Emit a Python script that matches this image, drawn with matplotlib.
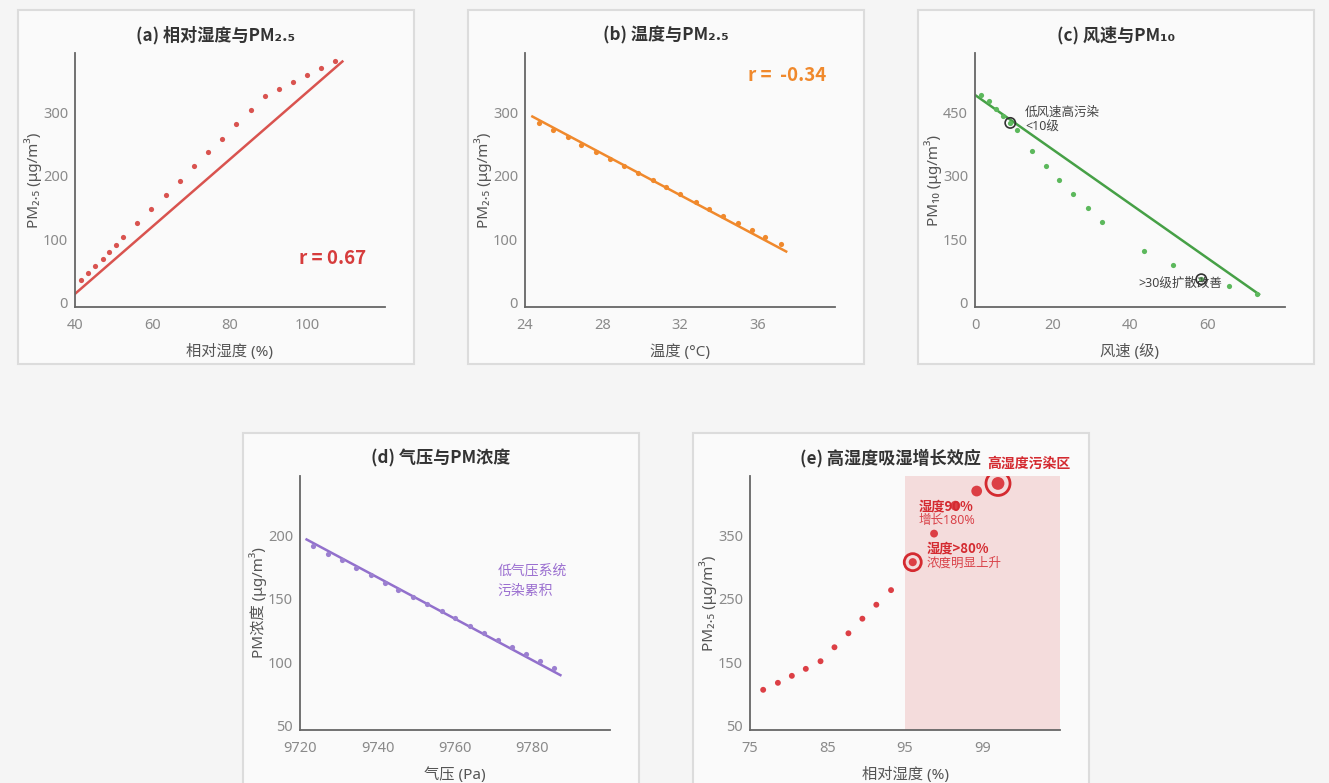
import matplotlib
matplotlib.use('Agg')
import matplotlib.pyplot as plt
from matplotlib.patches import Rectangle
import numpy as np

plt.rcParams['font.family'] = ['Noto Sans', 'Noto Sans CJK SC', 'DejaVu Sans']
BOLD_FAM = ['Noto Sans CJK SC', 'DejaVu Sans']

# (a) 相对湿度与PM2.5
rh_a = [41.5, 43.4, 45.2, 47.1, 48.9, 50.7, 52.5, 56.1, 59.7, 63.4, 67.1,
        70.7, 74.4, 78.0, 81.6, 85.3, 89.0, 92.6, 96.2, 99.9, 103.5, 107.2]
pm25_a = [36, 46, 58, 69, 80, 91, 103, 125, 147, 170, 192,
          215, 237, 259, 282, 304, 326, 337, 348, 360, 371, 382]
fit_a = (5.316, -198.9)          # slope, intercept
fit_a_range = (40, 109)

# (b) 温度与PM2.5
temp_b = [24.7, 25.45, 26.2, 26.9, 27.65, 28.4, 29.1, 29.85, 30.6, 31.3,
          32.0, 32.8, 33.5, 34.2, 35.0, 35.7, 36.4, 37.2]
pm25_b = [283, 272, 261, 249, 238, 227, 216, 204, 193, 182,
          171, 159, 148, 137, 126, 115, 103, 92]
fit_b = (-16.27, 690.4)
fit_b_range = (24.38, 37.48)

# (c) 风速与PM10
wind_c = [1.6, 3.5, 5.3, 7.2, 9.1, 10.9, 14.6, 18.2, 21.8, 25.4, 29.1,
          32.8, 43.7, 51.0, 58.4, 65.6, 72.9]
pm10_c = [492, 476, 459, 442, 425, 409, 358, 324, 290, 257, 223,
          190, 123, 89, 56, 39, 22]
fit_c = (-6.42, 491.0)
fit_c_range = (0, 73.3)
mark_c = [4, 14]

# (d) 气压与PM浓度
pres_d = [9723.4, 9727.2, 9730.8, 9734.5, 9738.2, 9741.9, 9745.4, 9749.1, 9752.8,
          9756.6, 9760.1, 9763.8, 9767.4, 9771.1, 9774.7, 9778.4, 9781.9, 9785.5]
pm_d = [191.6, 185.5, 180.3, 174.5, 168.7, 162.9, 157.4, 151.6, 146.0,
        140.3, 134.7, 129.0, 123.2, 117.6, 112.1, 106.6, 100.8, 95.3]
fit_d = (-1.631, 199.6)          # y = b + k*(x-9720)
fit_d_range = (9721.7, 9787.2)

# (e) 高湿度吸湿增长效应
rh_e = [76.7, 78.6, 80.4, 82.2, 84.1, 85.9, 87.7, 89.5, 91.3, 93.2,
        95.4, 96.5, 97.6, 98.7, 99.8]
pm25_e = [107, 118, 129, 140, 152, 174, 196, 219, 241, 264,
          308, 353, 397, 420, 432]
mark_e = [10, 14]

W, H = 1329, 783
fig = plt.figure(figsize=(W / 100, H / 100), dpi=100)
fig.patch.set_facecolor('#f5f5f5')

PANEL_BG = '#fafafa'
TICK_C = '#8a8a8a'
LABEL_C = '#555555'
TITLE_C = '#333333'


def panel(x0, y0, title):
    # 每个子图外框 (像素, 左上角坐标)
    fig.add_artist(Rectangle((x0 / W, 1 - (y0 + 354) / H), 396 / W, 354 / H,
                             transform=fig.transFigure, facecolor=PANEL_BG,
                             edgecolor='#dcdcdc', lw=1.5, zorder=0))
    fig.text((x0 + 198) / W, 1 - (y0 + 25) / H, title, ha='center', va='center',
             fontsize=12.3, fontweight='bold', color=TITLE_C, family=BOLD_FAM)
    ax = fig.add_axes([(x0 + 57) / W, 1 - (y0 + 297) / H, 310 / W, 254 / H])
    ax.set_facecolor(PANEL_BG)
    for s in ['top', 'right']:
        ax.spines[s].set_visible(False)
    for s in ['left', 'bottom']:
        ax.spines[s].set_color('#666666')
        ax.spines[s].set_linewidth(1.3)
    ax.tick_params(length=0, labelsize=10.5, colors=TICK_C, pad=5)
    ax.tick_params(axis='x', pad=8)
    ax.yaxis.set_label_coords(-0.105, 0.5)
    ax.xaxis.set_label_coords(0.5, -0.145)
    return ax


# (a)
ax = panel(18, 10, '(a) 相对湿度与PM₂.₅')
ax.scatter(rh_a, pm25_a, s=14, color='#d9534f', lw=0, zorder=3)
xx = np.array(fit_a_range)
ax.plot(xx, fit_a[0] * xx + fit_a[1], color='#d9534f', lw=1.8, zorder=2)
ax.set_xlim(40, 120)
ax.set_ylim(-7, 394)
ax.set_xticks([40, 60, 80, 100])
ax.set_yticks([0, 100, 200, 300])
ax.set_xlabel('相对湿度 (%)', fontsize=11, color=LABEL_C)
ax.set_ylabel('PM₂.₅ (μg/m³)', fontsize=11, color=LABEL_C)
ax.text(106.4, 69, 'r = 0.67', ha='center', va='center', fontsize=13.5,
        fontweight='bold', color='#d63c3c', family=BOLD_FAM)

# (b)
ax = panel(468, 10, '(b) 温度与PM₂.₅')
ax.scatter(temp_b, pm25_b, s=14, color='#f0892c', lw=0, zorder=3)
xx = np.array(fit_b_range)
ax.plot(xx, fit_b[0] * xx + fit_b[1], color='#f0892c', lw=1.8, zorder=2)
ax.set_xlim(24, 40)
ax.set_ylim(-7, 394)
ax.set_xticks([24, 28, 32, 36])
ax.set_yticks([0, 100, 200, 300])
ax.set_xlabel('温度 (°C)', fontsize=11, color=LABEL_C)
ax.set_ylabel('PM₂.₅ (μg/m³)', fontsize=11, color=LABEL_C)
ax.text(37.55, 358, 'r =  -0.34', ha='center', va='center', fontsize=13.5,
        fontweight='bold', color='#f0892c', family=BOLD_FAM)

# (c)
ax = panel(918, 10, '(c) 风速与PM₁₀')
ax.scatter(wind_c, pm10_c, s=14, color='#5cb85c', lw=0, zorder=3)
xx = np.array(fit_c_range)
ax.plot(xx, fit_c[0] * xx + fit_c[1], color='#46a046', lw=1.8, zorder=2)
ax.scatter([wind_c[i] for i in mark_c], [pm10_c[i] for i in mark_c], s=55,
           facecolor='none', edgecolor='#333333', lw=1.2, zorder=4)
ax.set_xlim(0, 80)
ax.set_ylim(-9.5, 590)
ax.set_xticks([0, 20, 40, 60])
ax.set_yticks([0, 150, 300, 450])
ax.set_xlabel('风速 (级)', fontsize=11, color=LABEL_C)
ax.set_ylabel('PM₁₀ (μg/m³)', fontsize=11, color=LABEL_C)
ax.text(12.9, 432, '低风速高污染\n<10级', ha='left', va='center', fontsize=9,
        color='#444444', linespacing=1.15)
ax.text(42.1, 47, '>30级扩散改善', ha='left', va='center', fontsize=9,
        color='#444444')

# (d)
ax = panel(243, 433, '(d) 气压与PM浓度')
ax.scatter(pres_d, pm_d, s=14, color='#9b7fd0', lw=0, zorder=3)
xx = np.array(fit_d_range)
ax.plot(xx, fit_d[1] + fit_d[0] * (xx - 9720), color='#9270cc', lw=1.8, zorder=2)
ax.set_xlim(9720, 9800)
ax.set_ylim(46.8, 246.8)
ax.set_xticks([9720, 9740, 9760, 9780])
ax.set_yticks([50, 100, 150, 200])
ax.set_xlabel('气压 (Pa)', fontsize=11, color=LABEL_C)
ax.set_ylabel('PM浓度 (μg/m³)', fontsize=11, color=LABEL_C)
ax.text(9770.9, 164, '低气压系统\n污染累积', ha='left', va='center', fontsize=10,
        color='#9b6fd0', linespacing=1.55)

# (e) 高湿度段横轴拉伸
def fwd(x):
    x = np.asarray(x, dtype=float)
    return np.where(x <= 95, x, 95 + (x - 95) * 2.5)


def inv(x):
    x = np.asarray(x, dtype=float)
    return np.where(x <= 95, x, 95 + (x - 95) / 2.5)


ax = panel(693, 433, '(e) 高湿度吸湿增长效应')
ax.set_xscale('function', functions=(fwd, inv))
ax.set_xlim(75, 103)
ax.axvspan(95, 103, color='#f4dcdc', lw=0, zorder=0)
dot_sizes = [18] * 10 + [34, 32, 50, 60, 85]
ax.scatter(rh_e, pm25_e, s=dot_sizes, color='#dc3f45', lw=0, zorder=3)
ring_sizes = [150, 300]
ax.scatter([rh_e[i] for i in mark_e], [pm25_e[i] for i in mark_e], s=ring_sizes,
           facecolor='none', edgecolor='#d42a30', lw=2, zorder=4)
ax.set_ylim(43.7, 443.7)
ax.set_xticks([75, 85, 95, 99])
ax.set_xticklabels(['75', '85', '95', '99'])
ax.set_yticks([50, 150, 250, 350])
ax.set_xlabel('相对湿度 (%)', fontsize=11, color=LABEL_C)
ax.set_ylabel('PM₂.₅ (μg/m³)', fontsize=11, color=LABEL_C)
ax.text(0.765, 1.048, '高湿度污染区', transform=ax.transAxes, ha='left',
        va='center', fontsize=10, fontweight='bold', color='#d42a30',
        family=BOLD_FAM, clip_on=False)
ax.text(0.545, 0.881, '湿度90%', transform=ax.transAxes, ha='left', va='center',
        fontsize=9.5, fontweight='bold', color='#d42a30', family=BOLD_FAM)
ax.text(0.545, 0.825, '增长180%', transform=ax.transAxes, ha='left', va='center',
        fontsize=9, color='#d9434a')
ax.text(0.571, 0.714, '湿度>80%', transform=ax.transAxes, ha='left', va='center',
        fontsize=9.5, fontweight='bold', color='#d42a30', family=BOLD_FAM)
ax.text(0.571, 0.655, '浓度明显上升', transform=ax.transAxes, ha='left', va='center',
        fontsize=9, color='#d9434a')

fig.savefig('out.png', dpi=100, facecolor=fig.get_facecolor())
